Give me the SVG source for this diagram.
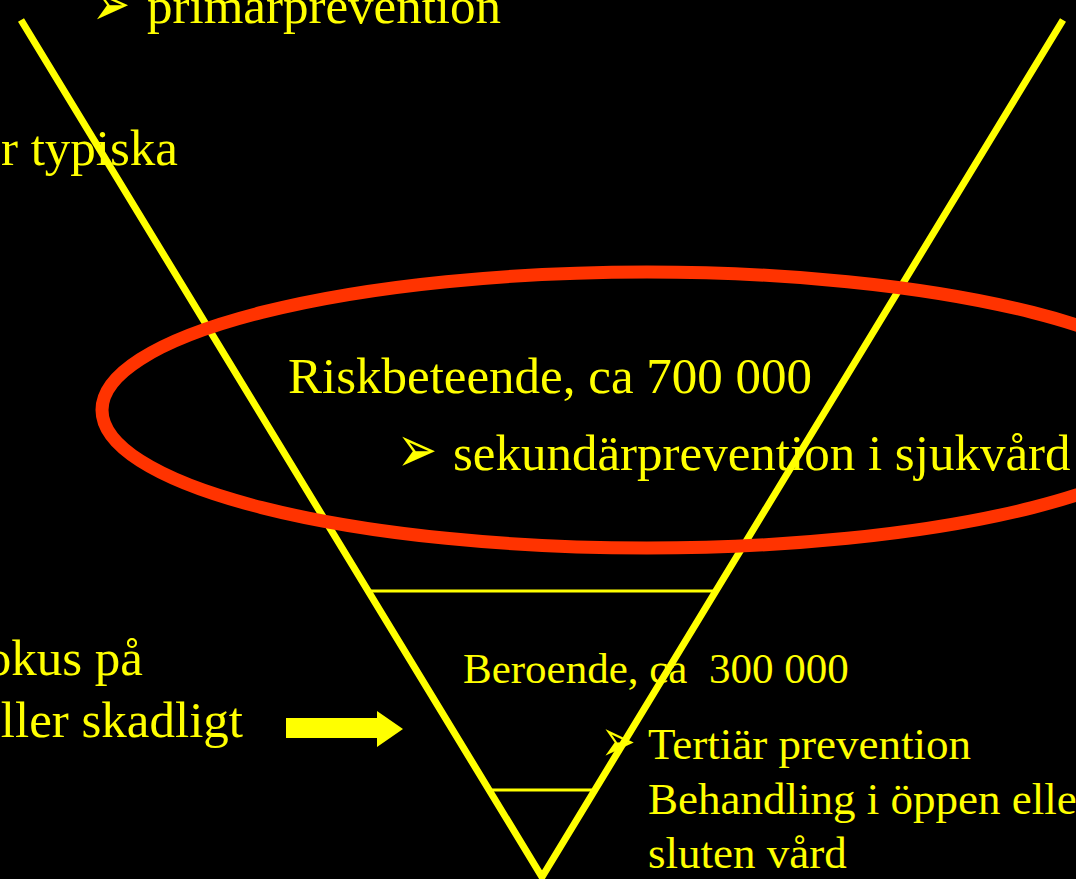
<svg xmlns="http://www.w3.org/2000/svg" width="1076" height="879" viewBox="0 0 1076 879">
<style>
.g{font-family:"Liberation Serif","Times New Roman",serif;fill:#FFFF00}
.t{font-family:"Liberation Serif","Times New Roman",serif;fill:#FFFF00}
.b{font-family:"DejaVu Sans",sans-serif;fill:#FFFF00}
.v{stroke:#FFFF00;stroke-width:7;fill:none;stroke-linecap:butt}
.h{stroke:#FFFF00;stroke-width:3;fill:none}
</style>
<rect width="1076" height="879" fill="#000000"/>
<g id="left-texts">
<text class="t" x="178" y="165" font-size="51" text-anchor="end">r typiska</text>
<text class="t" x="143" y="675" font-size="51" text-anchor="end">okus på</text>
<text class="t" x="243" y="737" font-size="51" text-anchor="end">ller skadligt</text>
</g>
<g id="primar">
<text class="b" transform="translate(92,25) scale(1.2,1.65)" font-size="38">➢</text>
<text class="g" x="147" y="23" font-size="51">primarprevention</text>
</g>
<g id="risk">
<text class="g" x="288" y="393" font-size="51">Riskbeteende, ca 700 000</text>
<text class="b" transform="translate(397,472) scale(1.2,1.65)" font-size="40">➢</text>
<text class="g" x="453" y="470" font-size="51">sekundärprevention i sjukvård</text>
</g>
<g id="beroende">
<text class="g" x="463" y="683" font-size="43">Beroende, ca&#160; 300 000</text>
<text class="b" transform="translate(601,761) scale(1.15,1.65)" font-size="36">➢</text>
<text class="g" x="648" y="759" font-size="45">Tertiär prevention</text>
<text class="g" x="648" y="814" font-size="45">Behandling i öppen eller</text>
<text class="g" x="648" y="868" font-size="45">sluten vård</text>
</g>
<g id="funnel">
<polyline class="v" points="21,20 542,877 1063,20"/>
<line class="h" x1="368" y1="591" x2="716" y2="591"/>
<line class="h" x1="488" y1="790" x2="595" y2="790"/>
</g>
<g id="ellipse">
<ellipse cx="647" cy="410" rx="545" ry="138" fill="none" stroke="#FF3300" stroke-width="13"/>
</g>
<g id="connectors">
<polygon points="286,718 377,718 377,711 403,729 377,747 377,738 286,738" fill="#FFFF00"/>
</g>
</svg>
